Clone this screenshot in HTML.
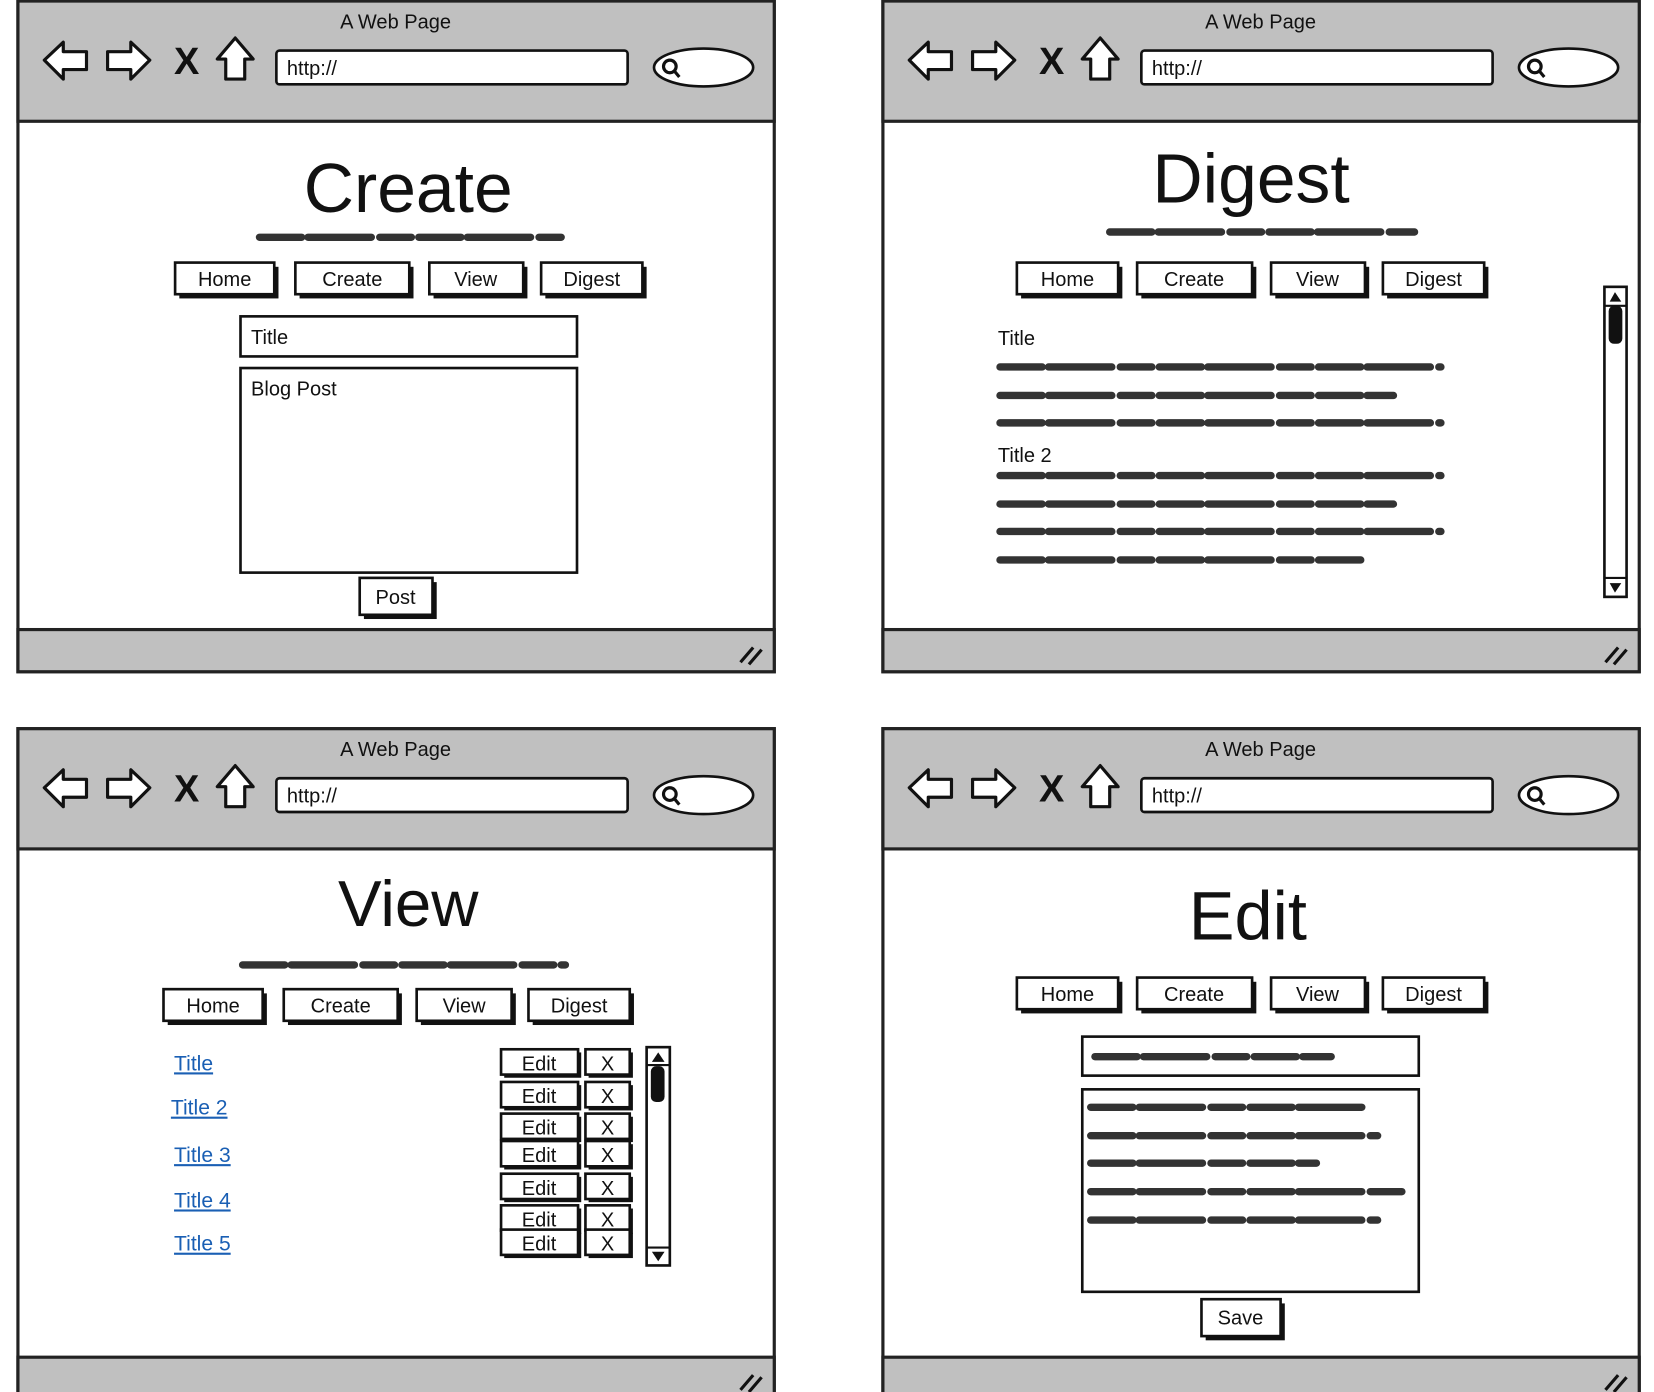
<!DOCTYPE html>
<html><head><meta charset="utf-8"><style>
html,body{margin:0;padding:0;background:#fff;width:1654px;height:1392px;overflow:hidden}
svg{display:block}
text{font-family:"Liberation Sans",sans-serif;fill:#111}
.fr{fill:#fff;stroke:#222;stroke-width:3}
.gb{fill:#c0c0c0;stroke:#222;stroke-width:3}
.bx{fill:#fff;stroke:#111;stroke-width:2.5}
.sh{fill:#111}
.sc{stroke:#333;stroke-width:7;stroke-linecap:round;fill:none;stroke-dasharray:40 6 60 8 30 7}
.ic{fill:#fff;stroke:#111;stroke-width:3;stroke-linejoin:round}
.lk{fill:#1a5fb4;text-decoration:underline}
</style></head><body>
<svg width="1654" height="1392" viewBox="0 0 1568 1320" preserveAspectRatio="none" xmlns="http://www.w3.org/2000/svg">

<!-- TL -->
<g transform="translate(16,0)">
<rect class="fr" x="1" y="1" width="717" height="636"/>
<rect class="gb" x="1" y="1" width="717" height="114"/>
<rect class="gb" x="1" y="597" width="717" height="40"/>
<text x="359" y="27" font-size="19" text-anchor="middle">A Web Page</text>
<path class="ic" d="M26 57 L44 40 L44 49 L66 49 L66 66 L44 66 L44 75 Z"/>
<path class="ic" d="M126 57 L108 40 L108 49 L86 49 L86 66 L108 66 L108 75 Z"/>
<text x="161" y="70" font-size="36" font-weight="bold" text-anchor="middle">X</text>
<path class="ic" d="M207 36 L190 56 L198 56 L198 75 L216 75 L216 56 L224 56 Z"/>
<rect class="bx" x="246" y="48" width="333" height="32" rx="3"/>
<text x="256" y="71" font-size="19">http://</text>
<ellipse class="bx" cx="651" cy="64" rx="47" ry="18"/>
<circle cx="619" cy="63" r="6" fill="none" stroke="#111" stroke-width="3"/><path d="M623 67 L628 73" stroke="#111" stroke-width="3"/>
<path d="M686 628 L698 614 M694 630 L706 616" stroke="#111" stroke-width="3"/>
<text x="371" y="201" font-size="66" text-anchor="middle">Create</text>
<path class="sc" d="M230 225 L516 225"/>
<rect class="sh" x="154" y="253" width="94" height="30"/><rect class="bx" x="150" y="249" width="94" height="30"/><text x="197" y="271" font-size="19" text-anchor="middle">Home</text>
<rect class="sh" x="268" y="253" width="108" height="30"/><rect class="bx" x="264" y="249" width="108" height="30"/><text x="318" y="271" font-size="19" text-anchor="middle">Create</text>
<rect class="sh" x="395" y="253" width="89" height="30"/><rect class="bx" x="391" y="249" width="89" height="30"/><text x="435" y="271" font-size="19" text-anchor="middle">View</text>
<rect class="sh" x="501" y="253" width="96" height="30"/><rect class="bx" x="497" y="249" width="96" height="30"/><text x="545" y="271" font-size="19" text-anchor="middle">Digest</text>
<rect class="bx" x="212" y="300" width="319" height="38"/><text x="222" y="326" font-size="19">Title</text>
<rect class="bx" x="212" y="349" width="319" height="194"/><text x="222" y="375" font-size="19">Blog Post</text>
<rect class="sh" x="329" y="552" width="69" height="35"/><rect class="bx" x="325" y="548" width="69" height="35"/><text x="359" y="573" font-size="19" text-anchor="middle">Post</text>
</g>

<!-- TR -->
<g transform="translate(836,0)">
<rect class="fr" x="1" y="1" width="717" height="636"/>
<rect class="gb" x="1" y="1" width="717" height="114"/>
<rect class="gb" x="1" y="597" width="717" height="40"/>
<text x="359" y="27" font-size="19" text-anchor="middle">A Web Page</text>
<path class="ic" d="M26 57 L44 40 L44 49 L66 49 L66 66 L44 66 L44 75 Z"/>
<path class="ic" d="M126 57 L108 40 L108 49 L86 49 L86 66 L108 66 L108 75 Z"/>
<text x="161" y="70" font-size="36" font-weight="bold" text-anchor="middle">X</text>
<path class="ic" d="M207 36 L190 56 L198 56 L198 75 L216 75 L216 56 L224 56 Z"/>
<rect class="bx" x="246" y="48" width="333" height="32" rx="3"/>
<text x="256" y="71" font-size="19">http://</text>
<ellipse class="bx" cx="651" cy="64" rx="47" ry="18"/>
<circle cx="619" cy="63" r="6" fill="none" stroke="#111" stroke-width="3"/><path d="M623 67 L628 73" stroke="#111" stroke-width="3"/>
<path d="M686 628 L698 614 M694 630 L706 616" stroke="#111" stroke-width="3"/>
<text x="350" y="192" font-size="66" text-anchor="middle">Digest</text>
<path class="sc" d="M216 220 L505 220"/>
<rect class="sh" x="132" y="253" width="96" height="30"/><rect class="bx" x="128" y="249" width="96" height="30"/><text x="176" y="271" font-size="19" text-anchor="middle">Home</text>
<rect class="sh" x="246" y="253" width="109" height="30"/><rect class="bx" x="242" y="249" width="109" height="30"/><text x="296" y="271" font-size="19" text-anchor="middle">Create</text>
<rect class="sh" x="373" y="253" width="89" height="30"/><rect class="bx" x="369" y="249" width="89" height="30"/><text x="413" y="271" font-size="19" text-anchor="middle">View</text>
<rect class="sh" x="479" y="253" width="96" height="30"/><rect class="bx" x="475" y="249" width="96" height="30"/><text x="523" y="271" font-size="19" text-anchor="middle">Digest</text>
<text x="110" y="327" font-size="19">Title</text>
<path class="sc" d="M112 348 L530 348 M112 375 L485 375 M112 401 L530 401"/>
<text x="110" y="438" font-size="19">Title 2</text>
<path class="sc" d="M112 451 L530 451 M112 478 L485 478 M112 504 L530 504 M112 531 L457 531"/>
<rect class="bx" x="685" y="272" width="21" height="294"/>
<rect x="689" y="290" width="13" height="36" rx="5" fill="#111"/>
<path d="M690 286 L695 277 L701 286 Z M690 553 L695 562 L701 553 Z" fill="#111"/>
<path d="M685 290 L706 290 M685 548 L706 548" stroke="#111" stroke-width="2"/>
</g>

<!-- BL -->
<g transform="translate(16,690)">
<rect class="fr" x="1" y="1" width="717" height="636"/>
<rect class="gb" x="1" y="1" width="717" height="114"/>
<rect class="gb" x="1" y="597" width="717" height="40"/>
<text x="359" y="27" font-size="19" text-anchor="middle">A Web Page</text>
<path class="ic" d="M26 57 L44 40 L44 49 L66 49 L66 66 L44 66 L44 75 Z"/>
<path class="ic" d="M126 57 L108 40 L108 49 L86 49 L86 66 L108 66 L108 75 Z"/>
<text x="161" y="70" font-size="36" font-weight="bold" text-anchor="middle">X</text>
<path class="ic" d="M207 36 L190 56 L198 56 L198 75 L216 75 L216 56 L224 56 Z"/>
<rect class="bx" x="246" y="48" width="333" height="32" rx="3"/>
<text x="256" y="71" font-size="19">http://</text>
<ellipse class="bx" cx="651" cy="64" rx="47" ry="18"/>
<circle cx="619" cy="63" r="6" fill="none" stroke="#111" stroke-width="3"/><path d="M623 67 L628 73" stroke="#111" stroke-width="3"/>
<path d="M686 628 L698 614 M694 630 L706 616" stroke="#111" stroke-width="3"/>
<text x="371" y="188" font-size="62" text-anchor="middle">View</text>
<path class="sc" d="M214 225 L520 225"/>
<rect class="sh" x="143" y="252" width="94" height="30"/><rect class="bx" x="139" y="248" width="94" height="30"/><text x="186" y="270" font-size="19" text-anchor="middle">Home</text>
<rect class="sh" x="257" y="252" width="108" height="30"/><rect class="bx" x="253" y="248" width="108" height="30"/><text x="307" y="270" font-size="19" text-anchor="middle">Create</text>
<rect class="sh" x="383" y="252" width="90" height="30"/><rect class="bx" x="379" y="248" width="90" height="30"/><text x="424" y="270" font-size="19" text-anchor="middle">View</text>
<rect class="sh" x="489" y="252" width="96" height="30"/><rect class="bx" x="485" y="248" width="96" height="30"/><text x="533" y="270" font-size="19" text-anchor="middle">Digest</text>
<text class="lk" x="149" y="325" font-size="20">Title </text>
<text class="lk" x="146" y="367" font-size="20">Title 2</text>
<text class="lk" x="149" y="412" font-size="20">Title 3</text>
<text class="lk" x="149" y="455" font-size="20">Title 4</text>
<text class="lk" x="149" y="496" font-size="20">Title 5</text>
<g font-size="19">
<rect class="sh" x="462" y="308" width="73" height="24"/><rect class="bx" x="459" y="305" width="73" height="24"/><text x="495" y="325" text-anchor="middle">Edit</text><rect class="sh" x="542" y="308" width="42" height="24"/><rect class="bx" x="539" y="305" width="42" height="24"/><text x="560" y="325" text-anchor="middle">X</text>
<rect class="sh" x="462" y="339" width="73" height="24"/><rect class="bx" x="459" y="336" width="73" height="24"/><text x="495" y="356" text-anchor="middle">Edit</text><rect class="sh" x="542" y="339" width="42" height="24"/><rect class="bx" x="539" y="336" width="42" height="24"/><text x="560" y="356" text-anchor="middle">X</text>
<rect class="sh" x="462" y="369" width="73" height="24"/><rect class="bx" x="459" y="366" width="73" height="24"/><text x="495" y="386" text-anchor="middle">Edit</text><rect class="sh" x="542" y="369" width="42" height="24"/><rect class="bx" x="539" y="366" width="42" height="24"/><text x="560" y="386" text-anchor="middle">X</text>
<rect class="sh" x="462" y="395" width="73" height="24"/><rect class="bx" x="459" y="392" width="73" height="24"/><text x="495" y="412" text-anchor="middle">Edit</text><rect class="sh" x="542" y="395" width="42" height="24"/><rect class="bx" x="539" y="392" width="42" height="24"/><text x="560" y="412" text-anchor="middle">X</text>
<rect class="sh" x="462" y="426" width="73" height="24"/><rect class="bx" x="459" y="423" width="73" height="24"/><text x="495" y="443" text-anchor="middle">Edit</text><rect class="sh" x="542" y="426" width="42" height="24"/><rect class="bx" x="539" y="423" width="42" height="24"/><text x="560" y="443" text-anchor="middle">X</text>
<rect class="sh" x="462" y="456" width="73" height="24"/><rect class="bx" x="459" y="453" width="73" height="24"/><text x="495" y="473" text-anchor="middle">Edit</text><rect class="sh" x="542" y="456" width="42" height="24"/><rect class="bx" x="539" y="453" width="42" height="24"/><text x="560" y="473" text-anchor="middle">X</text>
<rect class="sh" x="462" y="479" width="73" height="24"/><rect class="bx" x="459" y="476" width="73" height="24"/><text x="495" y="496" text-anchor="middle">Edit</text><rect class="sh" x="542" y="479" width="42" height="24"/><rect class="bx" x="539" y="476" width="42" height="24"/><text x="560" y="496" text-anchor="middle">X</text>
</g>
<rect class="bx" x="597" y="303" width="22" height="207"/>
<rect x="601" y="321" width="13" height="34" rx="5" fill="#111"/>
<path d="M602 317 L608 308 L614 317 Z M602 497 L608 506 L614 497 Z" fill="#111"/>
<path d="M597 320 L619 320 M597 493 L619 493" stroke="#111" stroke-width="2"/>
</g>

<!-- BR -->
<g transform="translate(836,690)">
<rect class="fr" x="1" y="1" width="717" height="636"/>
<rect class="gb" x="1" y="1" width="717" height="114"/>
<rect class="gb" x="1" y="597" width="717" height="40"/>
<text x="359" y="27" font-size="19" text-anchor="middle">A Web Page</text>
<path class="ic" d="M26 57 L44 40 L44 49 L66 49 L66 66 L44 66 L44 75 Z"/>
<path class="ic" d="M126 57 L108 40 L108 49 L86 49 L86 66 L108 66 L108 75 Z"/>
<text x="161" y="70" font-size="36" font-weight="bold" text-anchor="middle">X</text>
<path class="ic" d="M207 36 L190 56 L198 56 L198 75 L216 75 L216 56 L224 56 Z"/>
<rect class="bx" x="246" y="48" width="333" height="32" rx="3"/>
<text x="256" y="71" font-size="19">http://</text>
<ellipse class="bx" cx="651" cy="64" rx="47" ry="18"/>
<circle cx="619" cy="63" r="6" fill="none" stroke="#111" stroke-width="3"/><path d="M623 67 L628 73" stroke="#111" stroke-width="3"/>
<path d="M686 628 L698 614 M694 630 L706 616" stroke="#111" stroke-width="3"/>
<text x="347" y="201" font-size="65" text-anchor="middle">Edit</text>
<rect class="sh" x="132" y="241" width="96" height="30"/><rect class="bx" x="128" y="237" width="96" height="30"/><text x="176" y="259" font-size="19" text-anchor="middle">Home</text>
<rect class="sh" x="246" y="241" width="109" height="30"/><rect class="bx" x="242" y="237" width="109" height="30"/><text x="296" y="259" font-size="19" text-anchor="middle">Create</text>
<rect class="sh" x="373" y="241" width="89" height="30"/><rect class="bx" x="369" y="237" width="89" height="30"/><text x="413" y="259" font-size="19" text-anchor="middle">View</text>
<rect class="sh" x="479" y="241" width="96" height="30"/><rect class="bx" x="475" y="237" width="96" height="30"/><text x="523" y="259" font-size="19" text-anchor="middle">Digest</text>
<rect class="bx" x="190" y="293" width="319" height="37"/>
<path class="sc" d="M202 312 L426 312"/>
<rect class="bx" x="190" y="343" width="319" height="192"/>
<path class="sc" d="M198 360 L456 360 M198 387 L470 387 M198 413 L412 413 M198 440 L494 440 M198 467 L470 467"/>
<rect class="sh" x="307" y="546" width="75" height="35"/><rect class="bx" x="303" y="542" width="75" height="35"/><text x="340" y="566" font-size="19" text-anchor="middle">Save</text>
</g>
</svg>
</body></html>
